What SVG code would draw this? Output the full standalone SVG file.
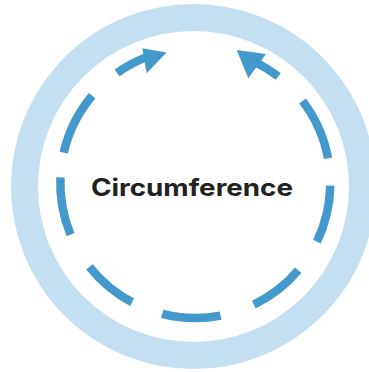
<svg xmlns="http://www.w3.org/2000/svg" width="369" height="372" viewBox="0 0 369 372">
  <style>
    .ring { fill: none; stroke: #c4dff0; stroke-width: 27; }
    .dash { fill: none; stroke: #4499cc; stroke-width: 8.5; stroke-linecap: butt; }
    .head { fill: #4499cc; }
    .label { font-family: "Inter", "Noto Sans", "Liberation Sans", sans-serif; font-weight: 700; font-size: 24px; fill: #222222; }
  </style>
  <rect width="369" height="372" fill="#ffffff"/>
  <g id="outer-ring">
    <circle class="ring" cx="193.5" cy="186.5" r="169"/>
  </g>
  <g id="connectors">
    <path class="dash" d="M 117.06 72.98 A 135 135 0 0 1 145.82 57.39"/>
    <polygon class="head" points="142.3,48.3 166.5,52.6 146.7,73.3"/>
    <path class="dash" d="M 63.76 152.63 A 135 135 0 0 1 92.19 95.86"/>
    <path class="dash" d="M 70.58 234.66 A 135 135 0 0 1 60.42 177.35"/>
    <path class="dash" d="M 132.13 302.31 A 135 135 0 0 1 89.50 266.86"/>
    <path class="dash" d="M 220.60 315.61 A 135 135 0 0 1 162.18 313.88"/>
    <path class="dash" d="M 298.26 270.32 A 135 135 0 0 1 253.84 304.65"/>
    <path class="dash" d="M 330.28 185.59 A 135 135 0 0 1 316.95 241.54"/>
    <path class="dash" d="M 302.55 101.00 A 135 135 0 0 1 328.00 158.17"/>
    <path class="dash" d="M 278.23 76.47 A 135 135 0 0 0 255.54 62.18"/>
    <polygon class="head" points="236.7,50 266,54 248.3,78.3"/>
  </g>
  <g id="center-label">
    <text class="label" x="192" y="196" text-anchor="middle" textLength="202" lengthAdjust="spacingAndGlyphs">Circumference</text>
  </g>
</svg>
